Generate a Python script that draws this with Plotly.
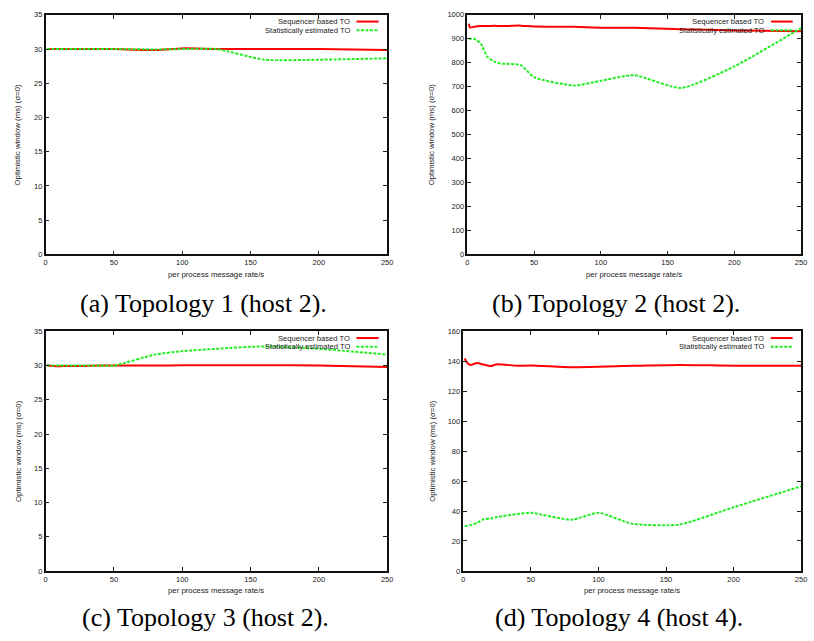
import plotly.graph_objects as go

# ---- data ----
rate = [1, 2, 5, 10, 15, 20, 25, 40, 50, 80, 100, 125, 160, 200, 250]

t1_seq  = [30.0, 30.0, 30.0, 30.0, 30.0, 30.0, 30.0, 30.0, 30.0, 29.85, 30.1, 30.0, 30.0, 30.0, 29.85]
t1_stat = [30.0, 30.0, 30.0, 30.0, 30.0, 30.0, 30.0, 30.0, 30.0, 29.95, 30.0, 30.0, 28.45, 28.45, 28.65]

t2_seq  = [963, 947, 950, 953, 953, 954, 953, 955, 951, 950, 946, 946, 940, 935, 932]
t2_stat = [900, 900, 900, 880, 825, 805, 797, 790, 740, 705, 725, 748, 695, 785, 945]

t3_seq  = [30.1, 30.0, 29.95, 29.9, 29.95, 29.95, 29.95, 30.0, 30.0, 30.0, 30.05, 30.05, 30.05, 30.0, 29.8]
t3_stat = [30.0, 30.0, 30.0, 30.0, 30.0, 30.0, 30.0, 30.0, 30.0, 31.6, 32.1, 32.45, 32.8, 32.45, 31.6]

t4_seq  = [142, 140, 137.5, 138.8, 137.8, 136.8, 138, 137, 137.2, 136, 136.3, 137, 137.6, 137, 137]
t4_stat = [30, 30, 30.5, 32, 34.5, 35, 36, 38, 38.8, 34.2, 38.8, 31.5, 31, 42.5, 56.5]

x_ticks = [0, 50, 100, 150, 200, 250]
y_ranges = [(0, 35, 5), (0, 1000, 100), (0, 35, 5), (0, 160, 20)]
captions = ["(a) Topology 1 (host 2).", "(b) Topology 2 (host 2).",
            "(c) Topology 3 (host 2).", "(d) Topology 4 (host 4)."]
series_names = ["Sequencer based TO", "Statistically estimated TO"]
x_title = "per process message rate/s"
y_title = "Optimistic window (ms) (σ=0)"

panels = [(t1_seq, t1_stat), (t2_seq, t2_stat), (t3_seq, t3_stat), (t4_seq, t4_stat)]

# ---- layout geometry (pixels) ----
W, H = 814, 641
boxes = [  # x0, x1, ytop, ybottom
    (44, 389, 11, 254),
    (470, 807, 11, 254),
    (44, 389, 332, 575),
    (466, 807, 332, 575),
]
ytitle_x = [16, 434, 16, 434]
caption_y = [304, 622]
caption_x = [203, 620, 206, 623]

RED = "#ff0000"
GREEN = "#22ee22"
TXT = "#1a1a1a"
SANS = "Liberation Sans, Arial, sans-serif"

fig = go.Figure()
layout = dict(width=W, height=H, margin=dict(l=0, r=0, t=0, b=0),
              paper_bgcolor="white", plot_bgcolor="white", showlegend=False)
annotations = []
shapes = []

for i, ((seq, stat), (x0, x1, yt, yb), (ymin, ymax, ystep)) in enumerate(zip(panels, boxes, y_ranges)):
    n = "" if i == 0 else str(i + 1)
    xa, ya = "x" + n, "y" + n
    fig.add_trace(go.Scatter(x=rate, y=seq, mode="lines", name=series_names[0],
                             line=dict(color=RED, width=2, shape="spline", smoothing=0.6),
                             xaxis=xa, yaxis=ya))
    fig.add_trace(go.Scatter(x=rate, y=stat, mode="lines", name=series_names[1],
                             line=dict(color=GREEN, width=2, dash="3px,1.5px", shape="spline", smoothing=0.6),
                             xaxis=xa, yaxis=ya))
    common = dict(showline=True, linecolor="#111111", linewidth=1.5, mirror="ticks",
                  ticks="inside", ticklen=4, tickwidth=1, tickcolor="#222222",
                  showgrid=False, zeroline=False, fixedrange=True,
                  tickfont=dict(family=SANS, size=7.5, color=TXT))
    layout["xaxis" + n] = dict(common, domain=[x0 / W, x1 / W], range=[0, 250],
                               tickmode="array", tickvals=x_ticks, anchor=ya)
    layout["yaxis" + n] = dict(common, domain=[1 - yb / H, 1 - yt / H], range=[ymin, ymax],
                               tickmode="linear", tick0=ymin, dtick=ystep, anchor=xa)
    # axis titles
    annotations.append(dict(text=x_title, xref="paper", yref="paper",
                            x=(x0 + x1) / 2 / W, y=1 - (yb + 20) / H,
                            showarrow=False, xanchor="center", yanchor="middle",
                            font=dict(family=SANS, size=7.8, color=TXT)))
    annotations.append(dict(text=y_title, xref="paper", yref="paper",
                            x=ytitle_x[i] / W, y=1 - (yt + yb) / 2 / H, textangle=-90,
                            showarrow=False, xanchor="center", yanchor="middle",
                            font=dict(family=SANS, size=7.8, color=TXT)))
    # caption
    annotations.append(dict(text=captions[i], xref="paper", yref="paper",
                            x=caption_x[i] / W, y=1 - caption_y[i // 2] / H,
                            showarrow=False, xanchor="center", yanchor="middle",
                            font=dict(family="Liberation Serif, Times New Roman, serif", size=26, color="black")))
    # legend (gnuplot style: text right-aligned, sample to the right)
    for k, (name, col, dash) in enumerate([(series_names[0], RED, "solid"),
                                           (series_names[1], GREEN, "3px,1.5px")]):
        ly = 0.972 - k * 0.036
        annotations.append(dict(text=name, xref=xa + " domain", yref=ya + " domain",
                                x=0.896, y=ly, showarrow=False, xanchor="right", yanchor="middle",
                                font=dict(family=SANS, size=7.6, color=TXT)))
        shapes.append(dict(type="line", xref=xa + " domain", yref=ya + " domain",
                           x0=0.91, x1=0.975, y0=ly, y1=ly,
                           line=dict(color=col, width=2, dash=dash)))

layout["annotations"] = annotations
layout["shapes"] = shapes
fig.update_layout(**layout)
fig.write_html("out.html")
